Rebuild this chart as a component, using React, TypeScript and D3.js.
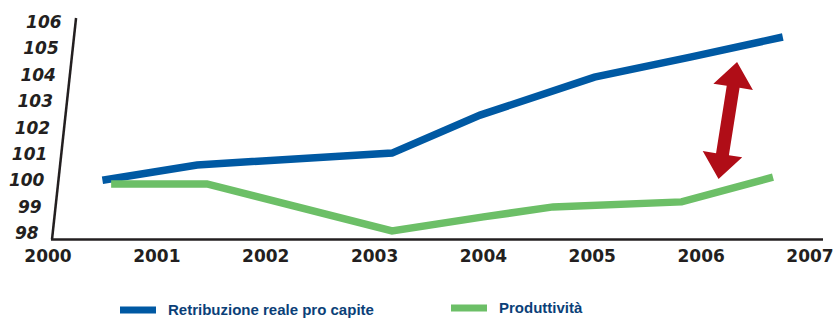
import React, { useRef, useEffect } from 'react';
import * as d3 from 'd3';

// years (points sit between the year ticks)
const retribuzioneYears = [2000.5, 2001.37, 2003.16, 2003.97, 2005.02, 2005.9, 2006.75];
const retribuzioneValues = [100.0, 100.58, 101.03, 102.47, 103.91, 104.67, 105.43];
const produttivitaYears = [2000.58, 2001.46, 2003.16, 2004.0, 2004.64, 2005.82, 2006.66];
const produttivitaValues = [99.86, 99.86, 98.08, 98.61, 98.99, 99.18, 100.12];
const yearTicks = [2000, 2001, 2002, 2003, 2004, 2005, 2006, 2007];
const valueTicks = [98, 99, 100, 101, 102, 103, 104, 105, 106];
const seriesNames = ['Retribuzione reale pro capite', 'Produttività'];
// the red double arrow: [year, value] of both tips
const gapArrow = [[2006.33, 104.48], [2006.16, 100.05]];

export default function App() {
  const ref = useRef(null);

  useEffect(() => {
    const width = 834;
    const height = 318;
    const svg = d3.select(ref.current).attr('width', width).attr('height', height);
    svg.selectAll('*').remove();

    const x = d3.scaleLinear().domain([2000, 2007]).range([48, 810]);
    const y = d3.scaleLinear().domain([98, 106]).range([233, 22]);
    const baseY = 239.5;
    const axisX0 = 52;
    const slant = 0.1086; // the y axis leans to the right
    const leanX = (py) => axisX0 + (baseY - py) * slant;

    const ink = '#231f20';
    const blue = '#0059a3';
    const green = '#6cbf67';
    const navy = '#0b3f78';
    const font = '"DejaVu Sans", sans-serif';

    // axes
    svg.append('line')
      .attr('x1', axisX0).attr('y1', baseY)
      .attr('x2', leanX(18)).attr('y2', 18)
      .attr('stroke', ink).attr('stroke-width', 2.5);
    svg.append('line')
      .attr('x1', axisX0 - 1).attr('y1', baseY)
      .attr('x2', 823).attr('y2', baseY)
      .attr('stroke', ink).attr('stroke-width', 2.5);

    svg.append('g')
      .selectAll('text')
      .data(valueTicks)
      .enter()
      .append('text')
      .attr('x', d => leanX(y(d)) - 14)
      .attr('y', d => y(d))
      .attr('dy', '0.36em')
      .attr('text-anchor', 'end')
      .attr('font-family', font)
      .attr('font-weight', 'bold')
      .attr('font-style', 'italic')
      .attr('font-size', 17)
      .attr('fill', ink)
      .text(d => d);

    svg.append('g')
      .selectAll('text')
      .data(yearTicks)
      .enter()
      .append('text')
      .attr('x', d => x(d))
      .attr('y', 262)
      .attr('text-anchor', 'middle')
      .attr('font-family', font)
      .attr('font-weight', 'bold')
      .attr('font-size', 17)
      .attr('fill', ink)
      .text(d => d);

    // lines
    const line = d3.line().x(d => x(d[0])).y(d => y(d[1]));
    const series = [
      { pts: d3.zip(retribuzioneYears, retribuzioneValues), color: blue },
      { pts: d3.zip(produttivitaYears, produttivitaValues), color: green },
    ];
    series.forEach(s => {
      svg.append('path')
        .attr('d', line(s.pts))
        .attr('fill', 'none')
        .attr('stroke', s.color)
        .attr('stroke-width', 7.5)
        .attr('stroke-linejoin', 'miter');
    });

    // double arrow
    const [a, b] = gapArrow.map(p => [x(p[0]), y(p[1])]);
    const len = Math.hypot(b[0] - a[0], b[1] - a[1]);
    const ux = (b[0] - a[0]) / len, uy = (b[1] - a[1]) / len;
    const px = -uy, py = ux;
    const hl = 25, hw = 20, sw = 6.5;
    const at = (base, along, side) => [base[0] + ux * along + px * side, base[1] + uy * along + py * side];
    const arrowPts = [
      a,
      at(a, hl, hw), at(a, hl, sw),
      at(b, -hl, sw), at(b, -hl, hw),
      b,
      at(b, -hl, -hw), at(b, -hl, -sw),
      at(a, hl, -sw), at(a, hl, -hw),
    ];
    svg.append('polygon')
      .attr('points', arrowPts.map(p => p.join(',')).join(' '))
      .attr('fill', '#b00d17');

    // legend
    const legend = svg.append('g');
    const legendItems = [
      { name: seriesNames[0], color: blue, x0: 120, cy: 310 },
      { name: seriesNames[1], color: green, x0: 451, cy: 308 },
    ];
    legendItems.forEach(it => {
      legend.append('rect')
        .attr('x', it.x0).attr('y', it.cy - 3.5)
        .attr('width', 36).attr('height', 7)
        .attr('fill', it.color);
      legend.append('text')
        .attr('x', it.x0 + 48)
        .attr('y', it.cy + 5)
        .attr('font-family', '"Liberation Sans", Arial, sans-serif')
        .attr('font-weight', 'bold')
        .attr('font-size', 15)
        .attr('fill', navy)
        .text(it.name);
    });
  }, []);

  return (
    <div style={{ position: 'absolute', left: 0, top: 0 }}>
      <svg ref={ref} style={{ display: 'block', background: '#fff' }} />
    </div>
  );
}
